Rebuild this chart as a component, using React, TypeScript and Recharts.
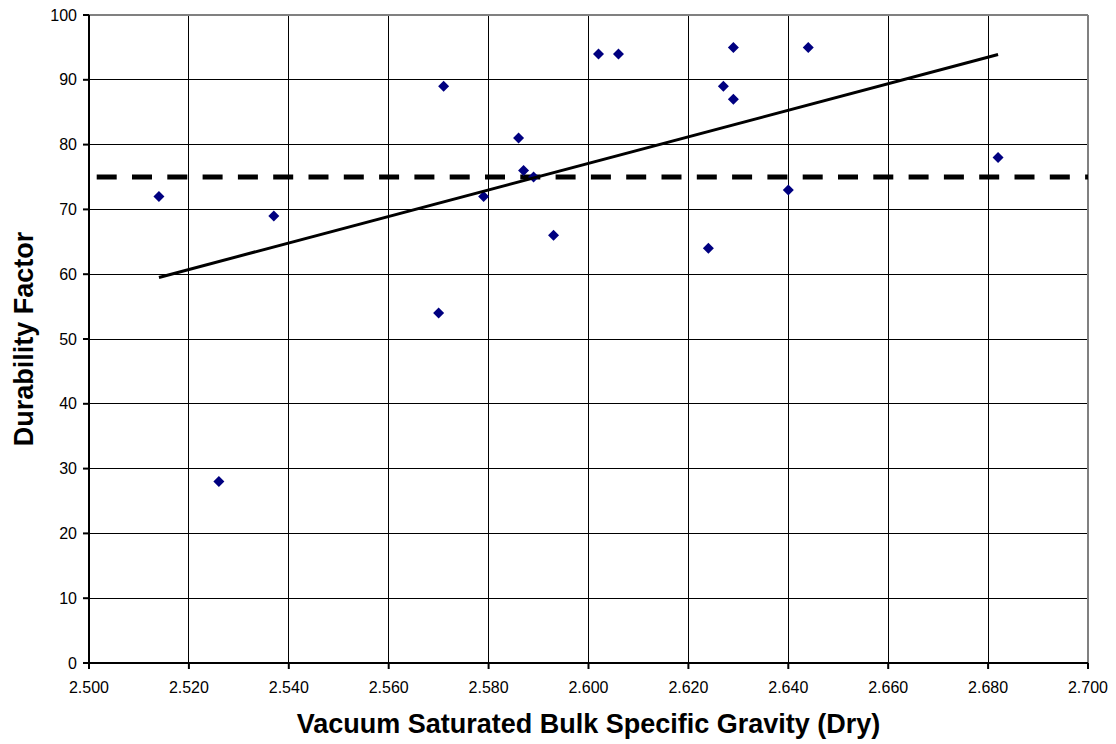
import { ScatterChart, Scatter, XAxis, YAxis, CartesianGrid, ReferenceLine, Label } from "recharts";

// vacuum saturated bulk specific gravity (dry) vs durability factor
const gravity = [2.514, 2.526, 2.537, 2.57, 2.571, 2.579, 2.586, 2.587, 2.589, 2.593, 2.602, 2.606, 2.624, 2.627, 2.629, 2.629, 2.64, 2.644, 2.682];
const durability = [72, 28, 69, 54, 89, 72, 81, 76, 75, 66, 94, 94, 64, 89, 95, 87, 73, 95, 78];

// linear trend line end points
const trendX = [2.514, 2.682];
const trendY = [59.5, 93.9];

const threshold = 75;

const xTicks = [2.5, 2.52, 2.54, 2.56, 2.58, 2.6, 2.62, 2.64, 2.66, 2.68, 2.7];
const yTicks = [0, 10, 20, 30, 40, 50, 60, 70, 80, 90, 100];

const points = gravity.map((x, i) => ({ x, y: durability[i] }));
const trend = trendX.map((x, i) => ({ x, y: trendY[i] }));

const FONT = "'Liberation Sans', Arial, sans-serif";

const Diamond = (props: any) => {
  const { cx, cy } = props;
  if (cx == null || cy == null) return null;
  const r = 5.5;
  return <polygon points={`${cx},${cy - r} ${cx + r},${cy} ${cx},${cy + r} ${cx - r},${cy}`} fill="#000080" />;
};

const NoDot = () => null;

const YTitle = (props: any) => {
  const vb = props.viewBox;
  const cy = vb.y + vb.height / 2;
  return (
    <text x={33} y={cy} transform={`rotate(-90, 33, ${cy})`} textAnchor="middle" fontFamily={FONT} fontSize={27} fontWeight="bold" fill="#000">
      Durability Factor
    </text>
  );
};

const XTitle = (props: any) => {
  const vb = props.viewBox;
  return (
    <text x={vb.x + vb.width / 2} y={733} textAnchor="middle" fontFamily={FONT} fontSize={27} fontWeight="bold" fill="#000">
      Vacuum Saturated Bulk Specific Gravity (Dry)
    </text>
  );
};

export default function App() {
  return (
    <div style={{ position: "absolute", left: 0, top: 0, background: "#fff" }}>
      <ScatterChart width={1116} height={744} margin={{ top: 15, right: 28, left: 0, bottom: 0 }}>
        <CartesianGrid stroke="#000" strokeWidth={1} shapeRendering="crispEdges" />
        <XAxis
          type="number"
          dataKey="x"
          domain={[2.5, 2.7]}
          ticks={xTicks}
          tickFormatter={(v: number) => v.toFixed(3)}
          height={81}
          stroke="#000"
          strokeWidth={2}
          tickSize={6}
          tickMargin={13}
          tick={{ fontSize: 16, fill: "#000", fontFamily: FONT }}
          interval={0}
        >
          <Label content={XTitle} />
        </XAxis>
        <YAxis
          type="number"
          dataKey="y"
          domain={[0, 100]}
          ticks={yTicks}
          width={89}
          stroke="#000"
          strokeWidth={2}
          tickSize={6}
          tickMargin={6}
          tick={{ fontSize: 16, fill: "#000", fontFamily: FONT }}
          interval={0}
        >
          <Label content={YTitle} />
        </YAxis>
        <ReferenceLine y={100} stroke="#808080" strokeWidth={2} />
        <ReferenceLine x={2.7} stroke="#808080" strokeWidth={2} />
        <ReferenceLine y={threshold} stroke="#000" strokeWidth={5} strokeDasharray="20 15.3" strokeDashoffset={27.6} />
        <Scatter data={points} shape={Diamond} isAnimationActive={false} />
        <Scatter data={trend} shape={NoDot} line={{ stroke: "#000", strokeWidth: 3 }} lineType="joint" isAnimationActive={false} />
      </ScatterChart>
    </div>
  );
}
